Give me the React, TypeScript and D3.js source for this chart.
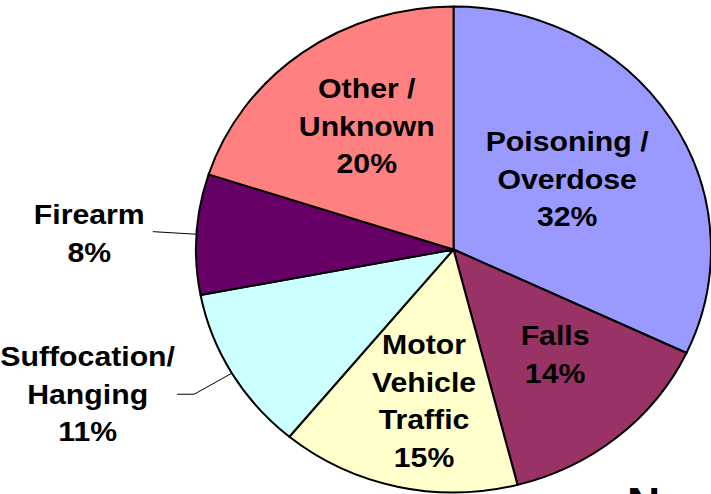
import { useEffect, useRef } from "react";
import * as d3 from "d3";

// slice data, clockwise from 12 o'clock
const categories = [
  "Poisoning / Overdose",
  "Falls",
  "Motor Vehicle Traffic",
  "Suffocation/ Hanging",
  "Firearm",
  "Other / Unknown",
];
const labelLines = [
  ["Poisoning /", "Overdose"],
  ["Falls"],
  ["Motor", "Vehicle", "Traffic"],
  ["Suffocation/", "Hanging"],
  ["Firearm"],
  ["Other /", "Unknown"],
];
const percents = [32, 14, 15, 11, 8, 20];
const colors = ["#9999ff", "#993366", "#ffffcc", "#ccffff", "#660066", "#ff8080"];

// label placement: radius factor + small angle nudge (deg), leader tail length
const labelRadius = [0.528, 0.584, 0.634, 1.54, 1.416, 0.61];
const labelShift = [-0.9, -2.9, -2.2, 7.9, -0.9, 2.5];
const outside = [false, false, false, true, true, false];
const leaderTail = [0, 0, 0, 17, 0, 0];

function App() {
  const svgRef = useRef<SVGSVGElement>(null);

  useEffect(() => {
    const width = 711;
    const height = 494;
    const cx = 453.5;
    const cy = 249.5;
    const rx = 257.5;
    const ry = 243;
    const sy = ry / rx;
    const fontSize = 27;
    const lineH = 37.5;

    const svg = d3.select(svgRef.current);
    svg.selectAll("*").remove();
    svg.attr("width", width).attr("height", height);

    const data = categories.map((c, i) => ({ name: c, value: percents[i], i }));
    const pie = d3.pie<any>().sort(null).value((d) => d.value);
    const arcs = pie(data);

    const arc = d3.arc<any>().innerRadius(0).outerRadius(rx);

    const g = svg.append("g").attr("transform", `translate(${cx},${cy}) scale(1,${sy})`);
    g.selectAll("path")
      .data(arcs)
      .join("path")
      .attr("d", arc)
      .attr("fill", (d) => colors[d.data.i])
      .attr("stroke", "#000")
      .attr("stroke-width", 2)
      .attr("vector-effect", "non-scaling-stroke")
      .attr("stroke-linejoin", "round");

    // point on the ellipse for an angle (clockwise from top) and radius
    const pt = (a: number, r: number): [number, number] => [
      cx + Math.sin(a) * r,
      cy - Math.cos(a) * r * sy,
    ];

    const labels = svg.append("g");
    arcs.forEach((d) => {
      const i = d.data.i;
      const mid = (d.startAngle + d.endAngle) / 2;

      if (outside[i]) {
        const p0 = pt(mid, rx);
        const p1 = pt(mid, rx * 1.17);
        const pts: [number, number][] = [p0, p1];
        if (leaderTail[i] > 0) pts.push([p1[0] - leaderTail[i], p1[1]]);
        labels
          .append("path")
          .attr("d", d3.line()(pts))
          .attr("fill", "none")
          .attr("stroke", "#000")
          .attr("stroke-width", 1);
      }

      const a = mid + (labelShift[i] * Math.PI) / 180;
      const [lx, ly] = pt(a, rx * labelRadius[i]);
      const lines = [...labelLines[i], `${percents[i]}%`];
      const n = lines.length;
      lines.forEach((t, k) => {
        const by = ly + (k - (n - 1) / 2) * lineH + fontSize * 0.358;
        labels
          .append("text")
          .attr("transform", `translate(${lx},${by}) scale(1.12,1)`)
          .attr("text-anchor", "middle")
          .attr("font-family", "'Liberation Sans', Arial, sans-serif")
          .attr("font-weight", "bold")
          .attr("font-size", fontSize)
          .attr("fill", "#000")
          .text(t);
      });
    });

    // cut-off caption at the bottom right
    svg
      .append("text")
      .attr("x", 627)
      .attr("y", 520)
      .attr("font-family", "'Liberation Sans', Arial, sans-serif")
      .attr("font-weight", "bold")
      .attr("font-size", 46)
      .attr("fill", "#000")
      .text("No");
  }, []);

  return (
    <div style={{ position: "absolute", left: 0, top: 0, width: 711, height: 494, overflow: "hidden", background: "#fff" }}>
      <svg ref={svgRef} style={{ display: "block" }}></svg>
    </div>
  );
}

export default App;
